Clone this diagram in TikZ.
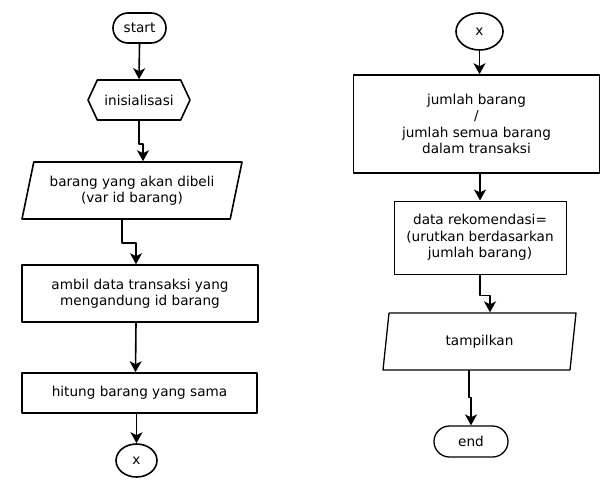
\documentclass[tikz,border=0pt]{standalone}
\usepackage{fontspec}
\setmainfont{DejaVu Sans}
\usetikzlibrary{shapes.geometric,shapes.misc,shapes.symbols,arrows.meta}

\begin{document}
\begin{tikzpicture}[x=1pt,y=-1pt,line cap=round,line join=round,
  every node/.style={font=\fontsize{13.6}{16.5}\selectfont,align=center},
  box/.style={draw,line width=1.6pt,inner sep=2pt},
  term/.style={box,rounded rectangle},
  prep/.style={box,signal,signal to=west and east,signal pointer angle=130},
  io/.style={box,trapezium,trapezium left angle=70.7,trapezium right angle=109.3,trapezium stretches body},
  proc/.style={box,rectangle},
  conn/.style={box,ellipse},
  arr/.style={line width=1.6pt,-{Stealth[length=11pt,width=12pt,inset=3pt]}}]
  \useasboundingbox (0,0) rectangle (601,484);

  % left column
  \node[term,minimum width=57pt,minimum height=30pt] (start) at (139.5,28) {start};
  \node[prep,minimum width=102pt,minimum height=40pt] (ini) at (139,100) {inisialisasi};
  \node[io,minimum width=220pt,minimum height=57pt] (brg) at (132,190.5) {barang yang akan dibeli\\(var id barang)};
  \node[proc,minimum width=236pt,minimum height=57pt] (amb) at (140,293.5) {ambil data transaksi yang\\mengandung id barang};
  \node[proc,minimum width=235pt,minimum height=40pt] (hit) at (139.5,393) {hitung barang yang sama};
  \node[conn,minimum width=41pt,minimum height=33pt] (cx) at (136.5,460.5) {x};

  % right column
  \node[conn,minimum width=47pt,minimum height=37pt] (cy) at (479.5,31.5) {x};
  \node[proc,minimum width=246pt,minimum height=98pt] (jml) at (476.5,124) {jumlah barang\\/\\jumlah semua barang\\dalam transaksi};
  \node[proc,line width=1pt,minimum width=172pt,minimum height=73pt] (rek) at (480,237.5) {data rekomendasi=\\(urutkan berdasarkan\\jumlah barang)};
  \node[io,line width=1.3pt,minimum width=193pt,minimum height=57pt] (tam) at (479.5,341.5) {tampilkan};
  \node[term,line width=1.3pt,minimum width=78pt,minimum height=31pt] (end) at (471,441.5) {end};

  \draw[arr] (start.south) -- (ini.north);
  \draw[arr] (ini.south) -- ++(0,23) -| ([xshift=11pt]brg.north);
  \draw[arr] ([xshift=-10pt]brg.south) -- ++(0,23) -| ([xshift=-4pt]amb.north);
  \draw[arr] ([xshift=-4pt]amb.south) -- ([xshift=-4pt]hit.north);
  \draw[arr] ([xshift=-3pt]hit.south) -- (cx.north);
  \draw[arr] (cy.south) -- (cy.south |- jml.north);
  \draw[arr] (rek.north |- jml.south) -- (rek.north);
  \draw[arr] (rek.south) -- ++(0,21) -| ([xshift=10.5pt]tam.north);
  \draw[arr] ([xshift=-10.5pt]tam.south) -- ++(0,27) -| (end.north);
\end{tikzpicture}
\end{document}
